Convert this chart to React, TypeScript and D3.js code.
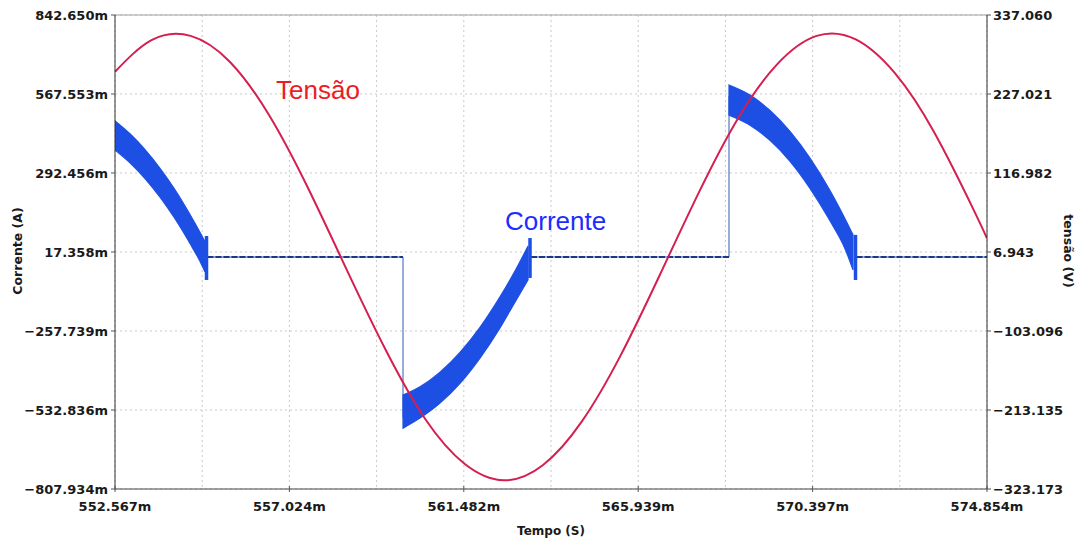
import React from "react"
import * as d3 from "d3"

// eixos (valores como aparecem no gráfico)
const timeTicks = [552.567, 557.024, 561.482, 565.939, 570.397, 574.854]
const currentTicks = [842.65, 567.553, 292.456, 17.358, -257.739, -532.836, -807.934]
const voltageTicks = [337.06, 227.021, 116.982, 6.943, -103.096, -213.135, -323.173]

// tensão (V) lida a cada ~1 ms
const voltageTime = [552.567, 553.5, 554.5, 555.5, 556.5, 557.5, 558.5, 559.5, 560.5, 561.5, 562.5, 563.5,
    564.5, 565.5, 566.5, 567.5, 568.5, 569.5, 570.5, 571.5, 572.5, 573.5, 574.5, 574.854]
const voltageValue = [258, 302, 308, 272, 198, 96, -19, -131, -226, -288, -311, -290,
    -229, -136, -24, 91, 194, 269, 308, 303, 256, 174, 67, 26]

// corrente (mA): envoltória superior / inferior do ripple em cada pulso
const band1Time = [552.567, 552.95, 553.334, 553.717, 554.101, 554.484, 554.739, 554.867]
const band1Upper = [474, 429, 374, 309, 234, 148, 86, 53]
const band1Lower = [373, 328, 273, 208, 133, 47, -15, -52]

const band2Time = [559.928, 560.362, 560.873, 561.385, 561.896, 562.407, 562.79, 563.123]
const band2Upper = [-481, -452, -401, -332, -245, -139, -49, 38]
const band2Lower = [-596, -561, -509, -440, -352, -247, -157, -80]

const band3Time = [568.26, 568.797, 569.308, 569.819, 570.33, 570.841, 571.225, 571.429]
const band3Upper = [599, 564, 510, 437, 344, 231, 133, 77]
const band3Lower = [494, 459, 406, 333, 239, 126, 29, -45]

// pico no fim de cada pulso
const spikeTime = [554.906, 563.174, 571.493]
const spikeTop = [73, 66, 77]
const spikeBottom = [-80, -73, -80]

// trechos sem condução
const offTime1 = [554.93, 559.928]
const offTime2 = [563.2, 568.26]
const offTime3 = [571.52, 574.854]
const offCur = [0, 0]

// degraus de entrada de cada pulso
const stepTime = [559.928, 568.26]
const stepTo = [-560, 560]

const W = 1081, H = 541
const left = 115, right = 987, top = 15, bottom = 489

const x = d3.scaleLinear().domain([timeTicks[0], timeTicks[timeTicks.length - 1]]).range([left, right])
const yI = d3.scaleLinear().domain([currentTicks[currentTicks.length - 1], currentTicks[0]]).range([bottom, top])
const yV = d3.scaleLinear().domain([voltageTicks[voltageTicks.length - 1], voltageTicks[0]]).range([bottom, top])

const tickFont = {fontFamily: "'DejaVu Sans', sans-serif", fontWeight: "bold", fontSize: 13, fill: "#1a1a1a"}

const App = () => {

    const band = (t: number[], up: number[], lo: number[]) =>
        d3.area<number>()
            .x(i => x(t[i]))
            .y0(i => yI(lo[i]))
            .y1(i => yI(up[i]))
            .curve(d3.curveMonotoneX)(d3.range(t.length))

    const trace = (t: number[], v: number[]) =>
        d3.line<number>().x(i => x(t[i])).y(i => yI(v[i]))(d3.range(t.length))

    const voltPath = d3.line<number>()
        .x(i => x(voltageTime[i]))
        .y(i => yV(voltageValue[i]))
        .curve(d3.curveNatural)(d3.range(voltageTime.length))

    // linhas de grade verticais: ticks e pontos médios
    const vGrid = timeTicks.concat(d3.pairs(timeTicks).map(([a, b]) => (a + b) / 2))

    const bands = [[band1Time, band1Upper, band1Lower], [band2Time, band2Upper, band2Lower], [band3Time, band3Upper, band3Lower]]

    return (
        <div style={{position: "absolute", left: 0, top: 0}}>
            <svg width={W} height={H} style={{display: "block", background: "#fff"}}>
                <defs>
                    <clipPath id="plot">
                        <rect x={left} y={top} width={right - left} height={bottom - top}/>
                    </clipPath>
                </defs>

                {vGrid.map((t, i) =>
                    <line key={"vg" + i} x1={x(t)} x2={x(t)} y1={top} y2={bottom}
                        stroke="#c9c9c9" strokeDasharray="2 3"/>
                )}
                {currentTicks.map((c, i) =>
                    <line key={"hg" + i} x1={left} x2={right} y1={yI(c)} y2={yI(c)}
                        stroke="#c9c9c9" strokeDasharray="2 3"/>
                )}

                <g clipPath="url(#plot)">
                    {stepTime.map((t, i) =>
                        <line key={"s" + i} x1={x(t)} x2={x(t)} y1={yI(0)} y2={yI(stepTo[i])}
                            stroke="#5f82c8" strokeWidth={1.3}/>
                    )}
                    {[offTime1, offTime2, offTime3].map((t, i) =>
                        <g key={"o" + i}>
                            <path d={trace(t, offCur) || ""} fill="none" stroke="#6d8bd0" strokeWidth={1.6}/>
                            <path d={trace(t, offCur) || ""} fill="none" stroke="#1d3886"
                                strokeWidth={2} strokeDasharray="6 2"/>
                        </g>
                    )}
                    {bands.map((b, i) =>
                        <path key={"b" + i} d={band(b[0], b[1], b[2]) || ""}
                            fill="#1d4fe4" stroke="#1d4fe4" strokeWidth={1.2}/>
                    )}
                    {spikeTime.map((t, i) =>
                        <line key={"k" + i} x1={x(t)} x2={x(t)} y1={yI(spikeTop[i])} y2={yI(spikeBottom[i])}
                            stroke="#1d4fe4" strokeWidth={3.5}/>
                    )}
                    <path d={voltPath || ""} fill="none" stroke="#d41f50" strokeWidth={2}/>
                </g>

                {/* molduras */}
                <line x1={left} x2={right} y1={top} y2={top} stroke="#a0a0a0"/>
                <line x1={left} x2={right} y1={bottom} y2={bottom} stroke="#444"/>
                <line x1={left} x2={left} y1={top} y2={bottom} stroke="#333"/>
                <line x1={right} x2={right} y1={top} y2={bottom} stroke="#333"/>

                {currentTicks.map((c, i) =>
                    <g key={"l" + i}>
                        <line x1={left - 4} x2={left} y1={yI(c)} y2={yI(c)} stroke="#555"/>
                        <text x={left - 7} y={yI(c)} dy="0.35em" textAnchor="end" style={tickFont}>
                            {d3.format(".3f")(c)}m
                        </text>
                    </g>
                )}
                {voltageTicks.map((v, i) =>
                    <g key={"r" + i}>
                        <line x1={right} x2={right + 4} y1={yV(v)} y2={yV(v)} stroke="#555"/>
                        <text x={right + 6} y={yV(v)} dy="0.35em" textAnchor="start" style={tickFont}>
                            {d3.format(".3f")(v)}
                        </text>
                    </g>
                )}
                {timeTicks.map((t, i) =>
                    <g key={"t" + i}>
                        <line x1={x(t)} x2={x(t)} y1={bottom - 3} y2={bottom + 3} stroke="#555"/>
                        <text x={x(t)} y={511} textAnchor="middle" style={tickFont}>
                            {d3.format(".3f")(t)}m
                        </text>
                    </g>
                )}

                <text x={551} y={535} textAnchor="middle" style={{...tickFont, fontSize: 12}}>Tempo (S)</text>
                <text transform="translate(22,251) rotate(-90)" textAnchor="middle"
                    style={{...tickFont, fontSize: 12.5}}>Corrente (A)</text>
                <text transform="translate(1064,251) rotate(90)" textAnchor="middle"
                    style={{...tickFont, fontSize: 12.5}}>tensão (V)</text>

                <text x={276} y={99} style={{fontFamily: "'Liberation Sans', Arial, sans-serif", fontSize: 26, fill: "#ec1c24"}}>
                    Tensão
                </text>
                <text x={505} y={230} style={{fontFamily: "'Liberation Sans', Arial, sans-serif", fontSize: 26, fill: "#1c2cff"}}>
                    Corrente
                </text>
            </svg>
        </div>
    )
}

export default App
